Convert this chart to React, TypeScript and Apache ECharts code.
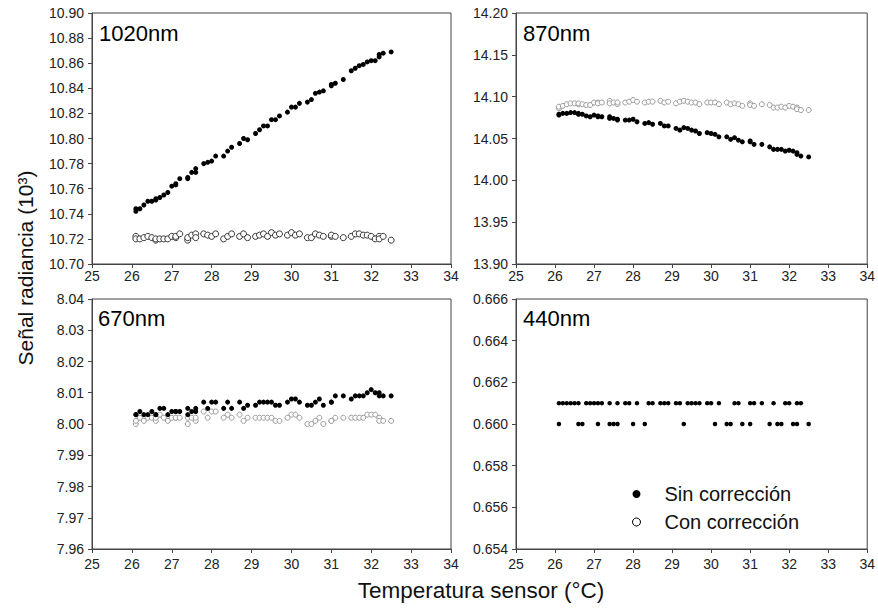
import React, { useEffect, useRef } from "react";
import * as echarts from "echarts";

const temps = [
  26.1, 26.1, 26.2, 26.3, 26.4, 26.5, 26.6, 26.6, 26.7, 26.8, 26.9, 27.0, 27.1, 27.1, 27.2,
  27.4, 27.4, 27.5, 27.6, 27.6, 27.8, 27.9, 28.0, 28.1, 28.3, 28.4, 28.5, 28.7, 28.8, 28.9,
  29.1, 29.2, 29.3, 29.4, 29.5, 29.6, 29.7, 29.9, 30.0, 30.1, 30.2, 30.4, 30.5, 30.6, 30.7,
  30.8, 31.0, 31.0, 31.1, 31.3, 31.5, 31.6, 31.7, 31.8, 31.9, 32.0, 32.1, 32.2, 32.2, 32.3, 32.5,
];

const sin1020 = [
  10.742, 10.744, 10.744, 10.747, 10.75, 10.75, 10.751, 10.752, 10.753, 10.755, 10.757, 10.762,
  10.763, 10.764, 10.768, 10.768, 10.769, 10.773, 10.773, 10.776, 10.78, 10.781, 10.782, 10.786,
  10.786, 10.79, 10.793, 10.796, 10.8, 10.799, 10.804, 10.807, 10.81, 10.81, 10.815, 10.815,
  10.818, 10.821, 10.825, 10.825, 10.828, 10.829, 10.831, 10.836, 10.837, 10.838, 10.842,
  10.843, 10.844, 10.847, 10.854, 10.856, 10.858, 10.859, 10.861, 10.862, 10.862, 10.865,
  10.867, 10.868, 10.869,
];
const con1020 = [
  10.722, 10.72, 10.72, 10.721, 10.722, 10.721, 10.719, 10.72, 10.72, 10.72, 10.72, 10.722,
  10.721, 10.722, 10.724, 10.719, 10.721, 10.723, 10.724, 10.721, 10.724, 10.723, 10.722,
  10.724, 10.72, 10.722, 10.724, 10.722, 10.724, 10.721, 10.722, 10.723, 10.724, 10.722,
  10.725, 10.723, 10.724, 10.723, 10.725, 10.723, 10.724, 10.721, 10.721, 10.724, 10.723,
  10.722, 10.722, 10.723, 10.722, 10.721, 10.722, 10.724, 10.724, 10.723, 10.723, 10.722,
  10.72, 10.722, 10.72, 10.722, 10.719,
];

const sin870 = [
  14.078, 14.079, 14.08, 14.08, 14.081, 14.081, 14.079, 14.08, 14.079, 14.077, 14.076, 14.078,
  14.077, 14.076, 14.076, 14.076, 14.074, 14.074, 14.072, 14.073, 14.072, 14.072, 14.073,
  14.07, 14.068, 14.069, 14.067, 14.068, 14.065, 14.065, 14.062, 14.06, 14.063, 14.062, 14.06,
  14.059, 14.056, 14.057, 14.056, 14.055, 14.052, 14.052, 14.049, 14.051, 14.048, 14.046,
  14.047, 14.046, 14.043, 14.043, 14.04, 14.037, 14.037, 14.037, 14.035, 14.036, 14.035,
  14.033, 14.031, 14.029, 14.028,
];
const con870 = [
  14.086, 14.088, 14.089, 14.091, 14.092, 14.092, 14.091, 14.092, 14.091, 14.09, 14.09, 14.093,
  14.093, 14.092, 14.093, 14.095, 14.092, 14.093, 14.091, 14.093, 14.093, 14.094, 14.096,
  14.094, 14.093, 14.094, 14.094, 14.095, 14.093, 14.094, 14.092, 14.094, 14.095, 14.094,
  14.093, 14.093, 14.091, 14.093, 14.093, 14.093, 14.091, 14.093, 14.091, 14.092, 14.091,
  14.089, 14.092, 14.09, 14.089, 14.091, 14.09, 14.087, 14.087, 14.088, 14.087, 14.089,
  14.088, 14.087, 14.085, 14.084, 14.084,
];

const sin670 = [
  8.003, 8.003, 8.004, 8.003, 8.003, 8.004, 8.003, 8.003, 8.005, 8.005, 8.003, 8.004, 8.004,
  8.004, 8.004, 8.005, 8.003, 8.004, 8.005, 8.004, 8.007, 8.005, 8.007, 8.007, 8.005, 8.007,
  8.005, 8.007, 8.005, 8.006, 8.006, 8.007, 8.007, 8.007, 8.007, 8.006, 8.006, 8.007, 8.008,
  8.008, 8.007, 8.006, 8.006, 8.007, 8.008, 8.006, 8.007, 8.007, 8.009, 8.009, 8.008, 8.009,
  8.009, 8.009, 8.01, 8.011, 8.01, 8.01, 8.009, 8.009, 8.009,
];
const con670 = [
  8.0, 8.001, 8.002, 8.001, 8.002, 8.002, 8.001, 8.002, 8.003, 8.002, 8.001, 8.002, 8.002,
  8.002, 8.002, 8.0, 8.002, 8.002, 8.001, 8.002, 8.004, 8.002, 8.004, 8.004, 8.002, 8.003,
  8.002, 8.003, 8.001, 8.002, 8.002, 8.002, 8.002, 8.002, 8.002, 8.001, 8.001, 8.002, 8.003,
  8.003, 8.002, 8.0, 8.0, 8.001, 8.002, 8.0, 8.001, 8.001, 8.002, 8.002, 8.002, 8.002, 8.002,
  8.002, 8.003, 8.003, 8.003, 8.002, 8.001, 8.001, 8.001,
];

const sin440 = [
  0.661, 0.66, 0.661, 0.661, 0.661, 0.661, 0.661, 0.66, 0.66, 0.661, 0.661, 0.661, 0.661, 0.66,
  0.661, 0.661, 0.66, 0.66, 0.661, 0.66, 0.661, 0.661, 0.66, 0.661, 0.66, 0.661, 0.661, 0.661,
  0.661, 0.661, 0.661, 0.661, 0.66, 0.661, 0.661, 0.661, 0.661, 0.661, 0.661, 0.66, 0.661,
  0.66, 0.66, 0.661, 0.661, 0.66, 0.661, 0.66, 0.661, 0.661, 0.66, 0.661, 0.66, 0.66, 0.661,
  0.661, 0.66, 0.661, 0.66, 0.661, 0.66,
];

const panelLabels = ["1020nm", "870nm", "670nm", "440nm"];
const yRanges = [
  { min: 10.7, max: 10.9, interval: 0.02, digits: 2 },
  { min: 13.9, max: 14.2, interval: 0.05, digits: 2 },
  { min: 7.96, max: 8.04, interval: 0.01, digits: 2 },
  { min: 0.654, max: 0.666, interval: 0.002, digits: 3 },
];
const xRange = { min: 25, max: 34, interval: 1 };

const SIN = "Sin corrección";
const CON = "Con corrección";
const FONT = "'Liberation Sans', Arial, sans-serif";

const zip = (ys: number[]) => temps.map((t, i) => [t, ys[i]]);

export default function App() {
  const ref = useRef<HTMLDivElement>(null);
  useEffect(() => {
    document.body.style.margin = "0";
    if (!ref.current) return;
    const chart = echarts.init(ref.current, null, { renderer: "svg" });

    const grids = [
      { left: 92, top: 13, width: 359, height: 251 },
      { left: 516, top: 13, width: 357, height: 251 },
      { left: 92, top: 299, width: 359, height: 250 },
      { left: 516, top: 299, width: 357, height: 250 },
    ].map((g) => ({ ...g, show: true, borderColor: "#444", borderWidth: 1, backgroundColor: "transparent" }));

    const axisLine = { show: true, onZero: false, lineStyle: { color: "#444", width: 1 } };
    const axisTick = { show: true, inside: false, length: 4, lineStyle: { color: "#444" } };

    const xAxes = grids.map((_, i) => ({
      type: "value",
      gridIndex: i,
      min: xRange.min,
      max: xRange.max,
      interval: xRange.interval,
      axisLine,
      axisTick,
      splitLine: { show: false },
      axisLabel: { fontSize: 14, color: "#222", fontFamily: FONT, margin: i < 2 ? 5 : 8 },
    }));
    const yAxes = yRanges.map((r, i) => ({
      type: "value",
      gridIndex: i,
      min: r.min,
      max: r.max,
      interval: r.interval,
      axisLine,
      axisTick,
      splitLine: { show: false },
      axisLabel: {
        fontSize: 14,
        color: "#222",
        fontFamily: FONT,
        margin: 8,
        formatter: (v: number) => v.toFixed(r.digits),
      },
    }));

    const conDark = { color: "#fff", borderColor: "#333", borderWidth: 1, opacity: 1 };
    const conLight = { color: "#fff", borderColor: "#999", borderWidth: 1, opacity: 1 };
    const sinStyle = { color: "#000", opacity: 1 };

    const series: any[] = [
      { name: CON, data: zip(con1020), xAxisIndex: 0, yAxisIndex: 0, symbolSize: 6, itemStyle: conDark },
      { name: SIN, data: zip(sin1020), xAxisIndex: 0, yAxisIndex: 0, symbolSize: 5, itemStyle: sinStyle },
      { name: CON, data: zip(con870), xAxisIndex: 1, yAxisIndex: 1, symbolSize: 5, itemStyle: conLight },
      { name: SIN, data: zip(sin870), xAxisIndex: 1, yAxisIndex: 1, symbolSize: 5, itemStyle: sinStyle },
      { name: CON, data: zip(con670), xAxisIndex: 2, yAxisIndex: 2, symbolSize: 5, itemStyle: conLight },
      { name: SIN, data: zip(sin670), xAxisIndex: 2, yAxisIndex: 2, symbolSize: 5, itemStyle: sinStyle },
      { name: SIN, data: zip(sin440), xAxisIndex: 3, yAxisIndex: 3, symbolSize: 4.5, itemStyle: sinStyle },
    ].map((s) => ({ type: "scatter", symbol: "circle", emphasis: { disabled: true }, ...s }));

    const labelPos = [
      [99, 33],
      [523, 33],
      [98, 318],
      [523, 318],
    ];

    chart.setOption({
      animation: false,
      backgroundColor: "#fff",
      grid: grids,
      xAxis: xAxes,
      yAxis: yAxes,
      series,
      legend: {
        left: 627,
        top: 479,
        orient: "vertical",
        itemWidth: 8,
        itemHeight: 8,
        itemGap: 8,
        selectedMode: false,
        data: [
          { name: SIN, icon: "circle", itemStyle: { color: "#000", borderWidth: 0, opacity: 1 } },
          { name: CON, icon: "circle", itemStyle: { color: "#fff", borderColor: "#000", borderWidth: 1, opacity: 1 } },
        ],
        textStyle: { fontSize: 20, lineHeight: 20, color: "#111", fontFamily: FONT, padding: [0, 0, 0, 19] },
      },
      graphic: [
        ...panelLabels.map((t, i) => ({
          type: "text",
          x: labelPos[i][0],
          y: labelPos[i][1],
          style: { text: t, fontSize: 22, fontFamily: FONT, fill: "#000", verticalAlign: "middle", align: "left" },
        })),
        {
          type: "text",
          x: 25,
          y: 268,
          rotation: Math.PI / 2,
          style: {
            text: "Señal radiancia (10³)",
            fontSize: 21,
            fontFamily: FONT,
            fill: "#111",
            align: "center",
            verticalAlign: "middle",
          },
        },
        {
          type: "text",
          x: 481,
          y: 590,
          style: {
            text: "Temperatura sensor (°C)",
            fontSize: 22.5,
            fontFamily: FONT,
            fill: "#111",
            align: "center",
            verticalAlign: "middle",
          },
        },
      ],
    });

    return () => chart.dispose();
  }, []);

  return <div ref={ref} style={{ width: 878, height: 609 }} />;
}
